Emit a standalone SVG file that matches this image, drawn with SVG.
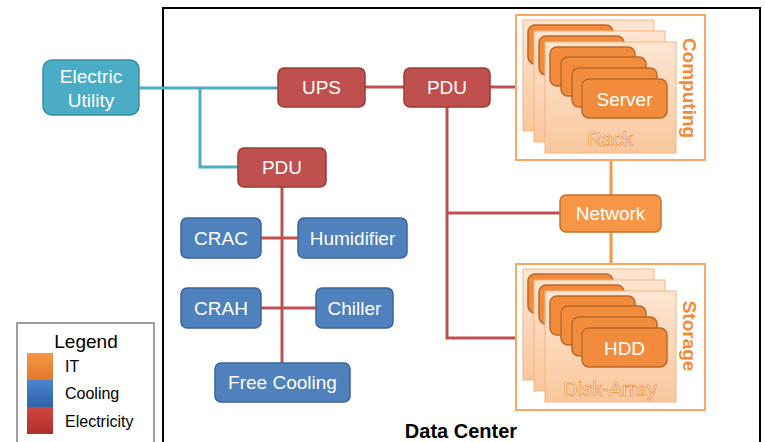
<svg xmlns="http://www.w3.org/2000/svg" width="765" height="442" viewBox="0 0 765 442">
  <style>
    text { font-family: "Liberation Sans", Arial, sans-serif; }
    .lbl { fill: #ffffff; font-size: 19px; text-anchor: middle; dominant-baseline: central; }
    .teal { fill: #4bacc6; stroke: #3b8ea5; stroke-width: 1.5; }
    .red { fill: #c0504d; stroke: #963c3a; stroke-width: 1.5; }
    .blue { fill: #4f81bd; stroke: #3a6496; stroke-width: 1.5; }
    .orange { fill: #f79646; stroke: #c4732f; stroke-width: 1.5; }
    .group { fill: #ffffff; stroke: #f8a865; stroke-width: 2; }
    .rack { fill: url(#rackFill); stroke: #f9b47f; stroke-width: 1; }
    .unit { fill: #f28b3c; stroke: #b9692c; stroke-width: 1.5; }
    .wTeal { stroke: #4bacc6; stroke-width: 3; fill: none; }
    .wRed { stroke: #c0504d; stroke-width: 3; fill: none; }
    .wOrange { stroke: #f79646; stroke-width: 3; fill: none; }
    .side { fill: #f58a36; font-size: 19px; font-weight: bold; text-anchor: middle; dominant-baseline: central; }
    .rackLbl { fill: #fff3ea; stroke: #e8893a; stroke-width: 0.7; font-size: 20px; text-anchor: middle; }
  </style>
  <defs>
    <linearGradient id="rackFill" x1="0" y1="0" x2="0" y2="1">
      <stop offset="0" stop-color="#fde6d3"/>
      <stop offset="1" stop-color="#f9c79c"/>
    </linearGradient>
    <!-- a stack of three racks, each carrying units -->
    <g id="rackStack">
      <rect class="rack" x="523" y="20" width="131" height="111"/>
      <rect class="unit" x="528" y="25" width="85" height="39" rx="7"/>
      <rect class="rack" x="534" y="31" width="131" height="111"/>
      <rect class="unit" x="539" y="36" width="85" height="39" rx="7"/>
      <rect class="rack" x="545" y="42" width="131" height="111"/>
      <rect class="unit" x="550" y="47" width="85" height="39" rx="7"/>
      <rect class="unit" x="561" y="57" width="85" height="39" rx="7"/>
      <rect class="unit" x="572" y="68" width="85" height="39" rx="7"/>
      <rect class="unit" x="582" y="79" width="85" height="39" rx="7"/>
    </g>
    <linearGradient id="swOrange" x1="0" y1="0" x2="0" y2="1">
      <stop offset="0" stop-color="#f79646"/><stop offset="1" stop-color="#e0782c"/>
    </linearGradient>
    <linearGradient id="swBlue" x1="0" y1="0" x2="0" y2="1">
      <stop offset="0" stop-color="#4a85cf"/><stop offset="1" stop-color="#2f62a8"/>
    </linearGradient>
    <linearGradient id="swRed" x1="0" y1="0" x2="0" y2="1">
      <stop offset="0" stop-color="#d04540"/><stop offset="1" stop-color="#b0302d"/>
    </linearGradient>
  </defs>

  <rect width="765" height="442" fill="#ffffff"/>

  <!-- data center boundary -->
  <g id="dataCenter">
    <polyline points="163,445 163,8 760,8 760,445" fill="none" stroke="#000000" stroke-width="2"/>
    <text x="461" y="438" font-size="20" font-weight="bold" text-anchor="middle" fill="#000000">Data Center</text>
  </g>

  <!-- connectors -->
  <g id="connectors">
    <polyline class="wTeal" points="139,88 278,88"/>
    <polyline class="wTeal" points="200,88 200,167 238,167"/>
    <line class="wRed" x1="365" y1="87" x2="404" y2="87"/>
    <line class="wRed" x1="490" y1="87" x2="516" y2="87"/>
    <polyline class="wRed" points="447,107 447,338 516,338"/>
    <line class="wRed" x1="447" y1="213" x2="560" y2="213"/>
    <line class="wRed" x1="282" y1="187" x2="282" y2="363"/>
    <line class="wRed" x1="261" y1="238" x2="298" y2="238"/>
    <line class="wRed" x1="261" y1="308" x2="316" y2="308"/>
    <line class="wOrange" x1="611" y1="160" x2="611" y2="195"/>
    <line class="wOrange" x1="611" y1="232" x2="611" y2="264"/>
  </g>

  <g id="electricUtility">
    <rect class="teal" x="43" y="60" width="96" height="55" rx="9"/>
    <text class="lbl" x="91" y="76">Electric</text>
    <text class="lbl" x="91" y="100">Utility</text>
  </g>
  <g id="ups">
    <rect class="red" x="278" y="68" width="87" height="39" rx="6"/>
    <text class="lbl" x="321.5" y="87.5">UPS</text>
  </g>
  <g id="pduIT">
    <rect class="red" x="404" y="68" width="86" height="39" rx="6"/>
    <text class="lbl" x="447" y="87.5">PDU</text>
  </g>
  <g id="pduCooling">
    <rect class="red" x="238" y="148" width="88" height="39" rx="6"/>
    <text class="lbl" x="282" y="167.5">PDU</text>
  </g>
  <g id="crac">
    <rect class="blue" x="181" y="218" width="80" height="40" rx="6"/>
    <text class="lbl" x="221" y="238">CRAC</text>
  </g>
  <g id="humidifier">
    <rect class="blue" x="298" y="218" width="109" height="40" rx="6"/>
    <text class="lbl" x="352.5" y="238">Humidifier</text>
  </g>
  <g id="crah">
    <rect class="blue" x="181" y="288" width="80" height="40" rx="6"/>
    <text class="lbl" x="221" y="308">CRAH</text>
  </g>
  <g id="chiller">
    <rect class="blue" x="316" y="288" width="77" height="40" rx="6"/>
    <text class="lbl" x="354.5" y="308">Chiller</text>
  </g>
  <g id="freeCooling">
    <rect class="blue" x="215" y="363" width="135" height="39" rx="6"/>
    <text class="lbl" x="282.5" y="382.5">Free Cooling</text>
  </g>

  <g id="computing">
    <rect class="group" x="516" y="15" width="189" height="145"/>
    <use href="#rackStack"/>
    <text class="lbl" x="624.5" y="99">Server</text>
    <text class="rackLbl" x="610" y="146">Rack</text>
    <text class="side" transform="translate(689,88) rotate(90)">Computing</text>
  </g>

  <g id="network">
    <rect class="orange" x="560" y="195" width="101" height="37" rx="6"/>
    <text class="lbl" x="610.5" y="213.5">Network</text>
  </g>

  <g id="storage">
    <rect class="group" x="516" y="264" width="189" height="146"/>
    <use href="#rackStack" transform="translate(0,249)"/>
    <text class="lbl" x="624.5" y="348" font-size="18">HDD</text>
    <text class="rackLbl" x="610" y="396">Disk-Array</text>
    <text class="side" transform="translate(689,336) rotate(90)">Storage</text>
  </g>

  <g id="legend">
    <rect x="17" y="323" width="137" height="125" fill="#ffffff" stroke="#7f7f7f" stroke-width="1.5"/>
    <text x="86" y="348" font-size="19" text-anchor="middle" fill="#000000">Legend</text>
    <rect x="27" y="353" width="26" height="27" fill="url(#swOrange)"/>
    <rect x="27" y="380" width="26" height="27" fill="url(#swBlue)"/>
    <rect x="27" y="407" width="26" height="27" fill="url(#swRed)"/>
    <text x="65" y="372" font-size="16" fill="#000000">IT</text>
    <text x="65" y="399" font-size="16" fill="#000000">Cooling</text>
    <text x="65" y="427" font-size="16" fill="#000000">Electricity</text>
  </g>
</svg>
